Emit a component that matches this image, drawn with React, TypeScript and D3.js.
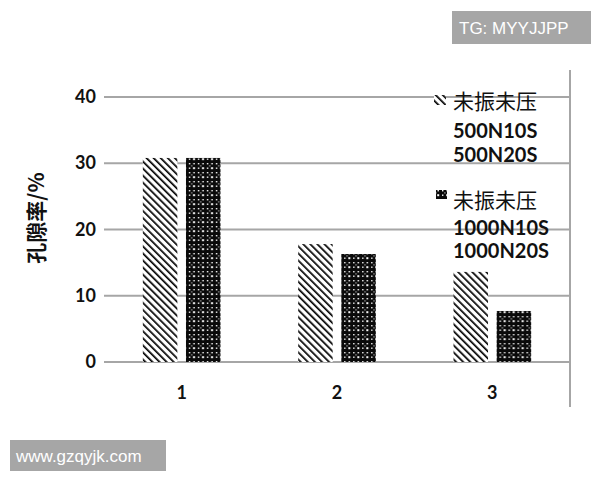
import React from 'react';
import * as d3 from 'd3';

const categories = ['1', '2', '3'];
const seriesKeys = ['hatched', 'dotted'];
const hatchedValues = [30.8, 17.8, 13.6];
const dottedValues = [30.8, 16.3, 7.7];
const yTicks = [0, 10, 20, 30, 40];
const legendHatched = ['未振未压', '500N10S', '500N20S'];
const legendDotted = ['未振未压', '1000N10S', '1000N20S'];

const latin = 'Lato, "Open Sans", sans-serif';
const cjk = '"Noto Sans CJK SC", sans-serif';

export default function App() {
  const width = 600;
  const height = 480;
  const left = 104;
  const right = 570;

  const x = d3.scaleBand<string>()
    .domain(categories)
    .range([left, right])
    .paddingInner(0.5)
    .paddingOuter(0.25);

  const xInner = d3.scaleBand<string>()
    .domain(seriesKeys)
    .range([0, x.bandwidth()])
    .paddingInner(0.2);

  const y = d3.scaleLinear().domain([0, 40]).range([362, 97]);

  const values: Record<string, number[]> = { hatched: hatchedValues, dotted: dottedValues };
  const fills: Record<string, string> = { hatched: 'url(#hatch)', dotted: 'url(#dots)' };

  const isCjk = (s: string) => /[\u4e00-\u9fff]/.test(s);

  const legendBlock = (lines: string[], baselines: number[]) =>
    lines.map((t, i) => (
      <text
        key={t + i}
        x={453}
        y={baselines[i]}
        fontFamily={isCjk(t) ? cjk : latin}
        fontWeight={isCjk(t) ? 400 : 700}
        fontSize={isCjk(t) ? 21 : 20}
        fill="#111"
      >
        {t}
      </text>
    ));

  return (
    <svg width={width} height={height} style={{ position: 'absolute', left: 0, top: 0, background: '#fff' }}>
      <defs>
        <pattern id="hatch" patternUnits="userSpaceOnUse" width={5} height={5} patternTransform="rotate(-45)">
          <rect width={5} height={5} fill="#fff" />
          <line x1={0} y1={0} x2={0} y2={5} stroke="#000" strokeWidth={3.4} />
        </pattern>
        <pattern id="dots" patternUnits="userSpaceOnUse" width={9} height={9}>
          <rect width={9} height={9} fill="#0a0a0a" />
          <rect x={1} y={1} width={1.4} height={1.4} fill="#fff" />
          <rect x={5.5} y={1} width={1.4} height={1.4} fill="#fff" />
          <rect x={1} y={5.5} width={1.4} height={1.4} fill="#fff" />
          <rect x={5.2} y={5.2} width={2} height={2} fill="#fff" />
          <rect x={3.3} y={3.3} width={1.2} height={1.2} fill="#bbb" />
        </pattern>
      </defs>

      {/* gridlines */}
      {yTicks.map(t => (
        <line key={t} x1={left} x2={right} y1={y(t)} y2={y(t)} stroke="#a6a6a6" strokeWidth={2} />
      ))}
      <line x1={right} x2={right} y1={70} y2={407} stroke="#a6a6a6" strokeWidth={2} />

      {/* y tick labels */}
      {yTicks.map(t => (
        <text key={t} x={96} y={y(t) + 6} textAnchor="end" fontFamily={latin} fontWeight={700} fontSize={18} fill="#111">
          {t}
        </text>
      ))}

      {/* y axis title */}
      <text
        transform="translate(44,218) rotate(-90)"
        textAnchor="middle"
        fontFamily={cjk}
        fontWeight={700}
        fontSize={21}
        fill="#111"
      >
        孔隙率/%
      </text>

      {/* bars */}
      {categories.map((c, i) => (
        <g key={c} transform={`translate(${x(c)},0)`}>
          {seriesKeys.map(k => (
            <rect
              key={k}
              x={xInner(k)}
              y={y(values[k][i])}
              width={xInner.bandwidth()}
              height={y(0) - y(values[k][i])}
              fill={fills[k]}
            />
          ))}
        </g>
      ))}

      {/* x tick labels */}
      {categories.map(c => (
        <text key={c} x={(x(c) as number) + x.bandwidth() / 2} y={399} textAnchor="middle" fontFamily={latin} fontWeight={700} fontSize={18} fill="#111">
          {c}
        </text>
      ))}

      {/* legend */}
      <rect x={434} y={95} width={12} height={10} fill="url(#hatch)" />
      {legendBlock(legendHatched, [109, 138, 162])}
      <rect x={436} y={190} width={11} height={9} fill="url(#dots)" />
      {legendBlock(legendDotted, [208, 235, 258])}

      {/* watermarks */}
      <rect x={452} y={11} width={139} height={33} fill="#a6a6a6" />
      <text x={459} y={34} fontFamily='"Liberation Sans", Arial, sans-serif' fontSize={17} fill="#fff">TG: MYYJJPP</text>
      <rect x={10} y={440} width={156} height={31} fill="#a6a6a6" />
      <text x={16} y={462} fontFamily='"Liberation Sans", Arial, sans-serif' fontSize={17} fill="#fff">www.gzqyjk.com</text>
    </svg>
  );
}
